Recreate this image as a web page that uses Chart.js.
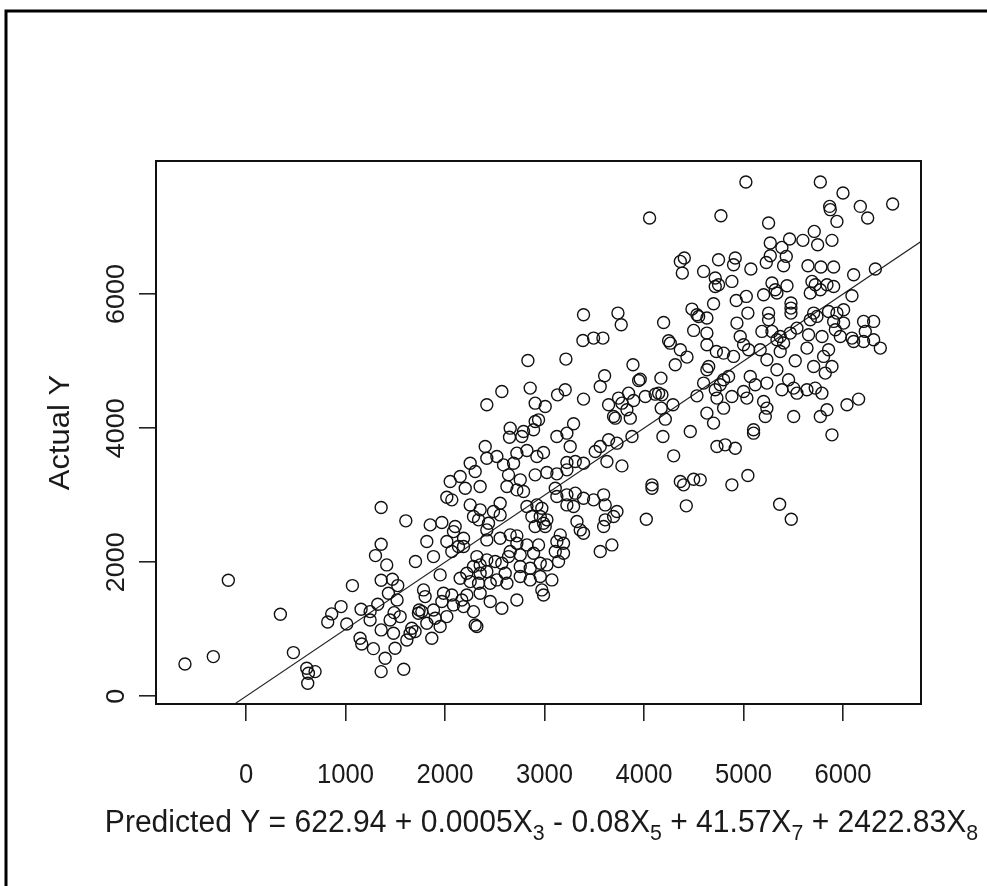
<!DOCTYPE html>
<html><head><meta charset="utf-8">
<script src="https://cdn.jsdelivr.net/npm/chart.js@4.4.1/dist/chart.umd.min.js"></script>
<style>html,body{margin:0;padding:0;background:#fff;}canvas{display:block;}</style>
</head><body>
<canvas id="c" width="987" height="886"></canvas>
<script>
// ---- axes / text ----
const xTickValues = [0, 1000, 2000, 3000, 4000, 5000, 6000];
const xTickLabels = ['0', '1000', '2000', '3000', '4000', '5000', '6000'];
const yTickValues = [0, 2000, 4000, 6000];
const yTickLabels = ['0', '2000', '4000', '6000'];
const xRange = [-905, 6784];
const yRange = [-115, 7985];
const yAxisTitle = 'Actual Y';
const xAxisTitleParts = [['Predicted Y = 622.94 + 0.0005X', '3'], [' - 0.08X', '5'], [' + 41.57X', '7'], [' + 2422.83X', '8']];
// reference line Actual = Predicted
const refLineX = [-1000, 8000];
const refLineY = [-1000, 8000];

// ---- data: predicted (x) and actual (y) ----
const predA = [-614,-329,-178,345,476,610,694,620,627,821, 861,955,1012,1069,1156,1247,1247,1146,1163,1280,
  1358,1358,1606,1358,1301,1414,1703,1358,1471,1525, 1431,1518,1324,1488,1549,1740,1733,1666,1699,1649,
  1616,1498,1398,1358,1585,1448,1482];
const actA = [482,592,1731,1224,652,418,368,194,343,1109, 1229,1338,1079,1651,1298,1263,1139,865,781,711,
  990,2816,2617,2268,2099,1960,2010,1731,1746,1651, 1537,1438,1373,1248,1189,1288,1239,1015,965,940,
  840,716,567,368,403,1139,940];

const predB = [3258,4298,2521,2420,2722,2823,2990,2923,2588,2689, 2253,2303,3225,3309,3392,3510,3627,3778,4080,4080,
  4365,4398,4499,4425,4023,2052,2152,2203,2353,2068, 2018,2638,2756,2622,2722,2789,2906,3024,3124,3225,
  3108,3124,3225,3309,3392,3493,3594,3610,3292,3225, 2823,2923,2973,2554,2253,2353,2487,2554,1851,1968,
  2102,2085,1817,2018,2186,2135,2286,2420,2337,2437, 2873,2957,2990,3024,2906,3007,3326,3359,3392,3594,
  3610,3694,3728,2722,3158,1884,2068,2186,2420,2554, 2655,2722,2823,2940,2655,2756,2890,2957,3024,3124,
  3191,3108,3191,3141,3560,3677,2320,2353,2420,2504, 2571,2638,2756,2856,2605,2420,2353,2286,2219,1951,
  2152,2253,2337,2454,2521,2622,2756,2856,2957,3074, 2973,2990,2722,2571,2454,2353,2219,2169,2068,1985,
  1784,1800,1968,1884,1767,1817,1901,1951,2018,1867, 2085,2186,2286,2303,2320];
const actB = [3726,3587,3577,3552,3627,3666,3636,3577,3452,3477, 3477,3353,3487,3502,3477,3651,3502,3437,3154,3104,
  3204,3154,3238,2841,2641,3204,3278,3104,3129,2930, 2970,3303,3229,3129,3079,3054,3303,3338,3318,3378,
  3104,2980,3005,3030,2955,2930,3005,2855,2831,2855, 2831,2855,2806,2880,2855,2781,2756,2706,2557,2592,
  2532,2457,2308,2308,2358,2234,2681,2482,2632,2582, 2681,2681,2582,2632,2532,2532,2607,2482,2433,2532,
  2632,2681,2756,2393,2408,2084,2159,2234,2333,2358, 2408,2283,2258,2258,2159,2109,2134,1985,1960,2308,
  2283,2159,2134,2010,2159,2258,2084,1960,2035,2010, 1985,2084,1935,1910,1836,1860,1836,1935,1836,1811,
  1761,1711,1686,1686,1736,1686,1786,1736,1786,1736, 1587,1512,1437,1313,1413,1537,1512,1437,1512,1537,
  1587,1487,1413,1288,1263,1089,1164,1040,1189,865, 1363,1338,1263,1064,1040];

const predC = [4056,4365,4405,4385,4482,4532,4549,4499,4727,4197, 4247,4264,4365,4432,4314,4650,3392,3738,3771,3386,
  3493,3587,2833,3215,3889,3962,3946,4170,3604,3560, 2571,2856,2420,2906,3007,3131,3208,3392,3644,3744,
  3778,3845,3895,3694,3711,3862,3828,4013,4113,4147, 4180,4173,4214,4291,4532,4465,4190,2655,2648,2789,
  2772,2906,2940,2890,3124,3225,3292,2404,3560,3644, 3728,3879];
const actC = [7134,6487,6537,6313,5776,5691,5666,5458,5144,5577, 5303,5268,5169,5060,4945,4920,5691,5716,5542,5308,
  5343,5343,5010,5030,4945,4731,4711,4746,4781,4622, 4547,4597,4348,4373,4323,4497,4572,4433,4348,4448,
  4373,4522,4413,4174,4149,4149,4274,4473,4507,4522, 4497,4298,4134,4348,4482,3950,3876,4000,3865,3950,
  3876,4100,4124,3975,3876,3925,4065,3726,3726,3826, 3776,3876];

const predD = [5024,5772,6000,5866,5872,6174,6248,5939,6499,4773, 5252,5711,5269,5463,5597,5745,5889,5386,5269,5430,
  5229,5403,4749,4917,4900,5074,5648,5778,5906,6107, 6325,4599,4716,4749,4716,4883,4699,4927,5028,5286,
  5319,5202,5336,5437,5688,5721,5671,5772,5839,5906, 6090,5477,5477,5477,5252,5252,5044,4632,5705,5738,
  5671,5855,5939,6006,5906,6006,6090,6207,6308,6224, 4934,4967,5001,5051,5185,5286,5369,5470,5336,5403,
  5537,5654,5789,5923,5973,6107,6207,6308,6375,4632, 4632,4800,4900,5168,5235,5369,5336,5520,5638,5705,
  5805,5855,5889,5822,4632,4599,4800,4850,4766,4716, 5068,5118,5235,5453,5386,5504,5537,5638,5721,5788,
  5001,5034,4883,4733,5202,5235,5219,4632,4699,4800, 5504,5772,5839,6040,6157,5101,5101,5889,4733,4816,
  4917];
const actD = [7671,7671,7507,7308,7259,7308,7134,7084,7343,7169, 7060,6935,6761,6821,6801,6736,6801,6696,6572,6562,
  6472,6423,6512,6537,6438,6373,6423,6403,6403,6289, 6373,6338,6239,6139,6114,6189,5856,5905,5965,6164,
  6065,5990,6015,6124,6189,6139,6015,6065,6139,6114, 5975,5866,5791,5716,5716,5617,5716,5642,5716,5667,
  5617,5741,5716,5766,5592,5567,5343,5592,5592,5443, 5567,5368,5244,5169,5443,5443,5368,5418,5318,5269,
  5492,5393,5368,5468,5368,5293,5293,5318,5194,5418, 5244,5119,5070,5169,5020,5144,4870,5005,5194,4920,
  5070,5169,4920,4821,4870,4672,4721,4771,4647,4572, 4771,4647,4672,4721,4572,4597,4522,4572,4597,4522,
  4547,4448,4473,4448,4398,4298,4174,4224,4075,4298, 4174,4174,4274,4348,4433,3975,3925,3900,3726,3751,
  3701];

const predE = [4565,5044,4883,5363,5480];
const actE = [3229,3293,3154,2865,2641];

// ---- build ----
const predicted = [].concat(predA, predB, predC, predD, predE);
const actual = [].concat(actA, actB, actC, actD, actE);
const points = predicted.map((x, i) => ({x: x, y: actual[i]}));
const refLine = refLineX.map((x, i) => ({x: x, y: refLineY[i]}));

const FONT = '"Liberation Sans", Arial, sans-serif';
const TXT = '#1a1a1a';
const INK = '#111';
let SX = 0.95; // slight horizontal condensing seen in the picture's text

const canvas = document.getElementById('c');
const ctx = canvas.getContext('2d');
const rawFill = ctx.fillText;
ctx.fillText = function (text, x, y, maxWidth) {
  const m = this.getTransform();
  const p = m.transformPoint(new DOMPoint(x, y));
  this.save();
  this.setTransform(new DOMMatrix().translate(p.x, p.y).scale(SX, 1).translate(-p.x, -p.y).multiply(m));
  if (maxWidth === undefined || maxWidth === null) rawFill.call(this, text, x, y);
  else rawFill.call(this, text, x, y, maxWidth);
  this.restore();
};

const framePlugin = {
  id: 'frame',
  beforeDraw(chart) {
    const c = chart.ctx;
    c.save();
    c.fillStyle = '#fff';
    c.fillRect(0, 0, chart.width, chart.height);
    c.strokeStyle = '#000';
    c.lineWidth = 3;
    c.beginPath();
    c.moveTo(6, chart.height);
    c.lineTo(6, 11);
    c.lineTo(chart.width, 11);
    c.stroke();
    c.restore();
  },
  afterDraw(chart) {
    const c = chart.ctx, a = chart.chartArea;
    c.save();
    c.strokeStyle = INK;
    c.lineWidth = 2;
    c.strokeRect(a.left, a.top, a.right - a.left, a.bottom - a.top);
    // x axis title with subscripts
    const prevSX = SX;
    SX = 0.97;
    c.fillStyle = TXT;
    c.textAlign = 'left';
    c.textBaseline = 'alphabetic';
    const mainFont = '31px ' + FONT, subFont = '22px ' + FONT;
    const pieces = [];
    let total = 0;
    xAxisTitleParts.forEach(([main, sub]) => {
      c.font = mainFont; const w1 = c.measureText(main).width * SX;
      c.font = subFont; const w2 = c.measureText(sub).width * SX;
      pieces.push([main, w1, sub, w2]);
      total += w1 + w2;
    });
    let x = (a.left + a.right) / 2 + 3 - total / 2;
    const base = a.bottom + 128;
    pieces.forEach(([main, w1, sub, w2]) => {
      c.font = mainFont; c.fillText(main, x, base); x += w1;
      c.font = subFont; c.fillText(sub, x, base + 8); x += w2;
    });
    SX = prevSX;
    c.restore();
  }
};

const tickGrid = {
  drawOnChartArea: false, drawTicks: true, tickLength: 17,
  tickWidth: 1.6, tickColor: '#222', color: '#222', lineWidth: 1.6
};

new Chart(ctx, {
  data: {
    datasets: [
      {
        type: 'scatter', data: points,
        pointStyle: 'circle', pointRadius: 6, pointHoverRadius: 6,
        pointBorderWidth: 1.4, pointBorderColor: INK,
        pointBackgroundColor: 'rgba(0,0,0,0)'
      },
      {
        type: 'line', data: refLine,
        borderColor: '#222', borderWidth: 1.1, pointRadius: 0, fill: false, tension: 0
      }
    ]
  },
  options: {
    responsive: false,
    animation: false,
    events: [],
    layout: { padding: { top: 161, right: 66, bottom: 0, left: 0 } },
    plugins: { legend: { display: false }, tooltip: { enabled: false } },
    scales: {
      x: {
        type: 'linear', position: 'bottom', min: xRange[0], max: xRange[1],
        afterBuildTicks: ax => { ax.ticks = xTickValues.map(v => ({ value: v })); },
        afterFit: ax => { ax.height = 182; },
        ticks: {
          autoSkip: false, minRotation: 0, maxRotation: 0, padding: 38,
          font: { family: FONT, size: 27 }, color: TXT,
          callback: v => xTickLabels[xTickValues.indexOf(v)]
        },
        grid: tickGrid,
        border: { display: false }
      },
      y: {
        type: 'linear', position: 'left', min: yRange[0], max: yRange[1],
        afterBuildTicks: ax => { ax.ticks = yTickValues.map(v => ({ value: v })); },
        afterFit: ax => { ax.width = 156; },
        ticks: {
          autoSkip: false, minRotation: 90, maxRotation: 90, crossAlign: 'center', padding: -8,
          font: { family: FONT, size: 27 }, color: TXT,
          callback: v => yTickLabels[yTickValues.indexOf(v)]
        },
        grid: tickGrid,
        border: { display: false },
        title: {
          display: true, text: yAxisTitle, color: TXT,
          font: { family: FONT, size: 31 }, padding: { top: 42, bottom: 0 }
        }
      }
    }
  },
  plugins: [framePlugin]
});
</script>
</body></html>
